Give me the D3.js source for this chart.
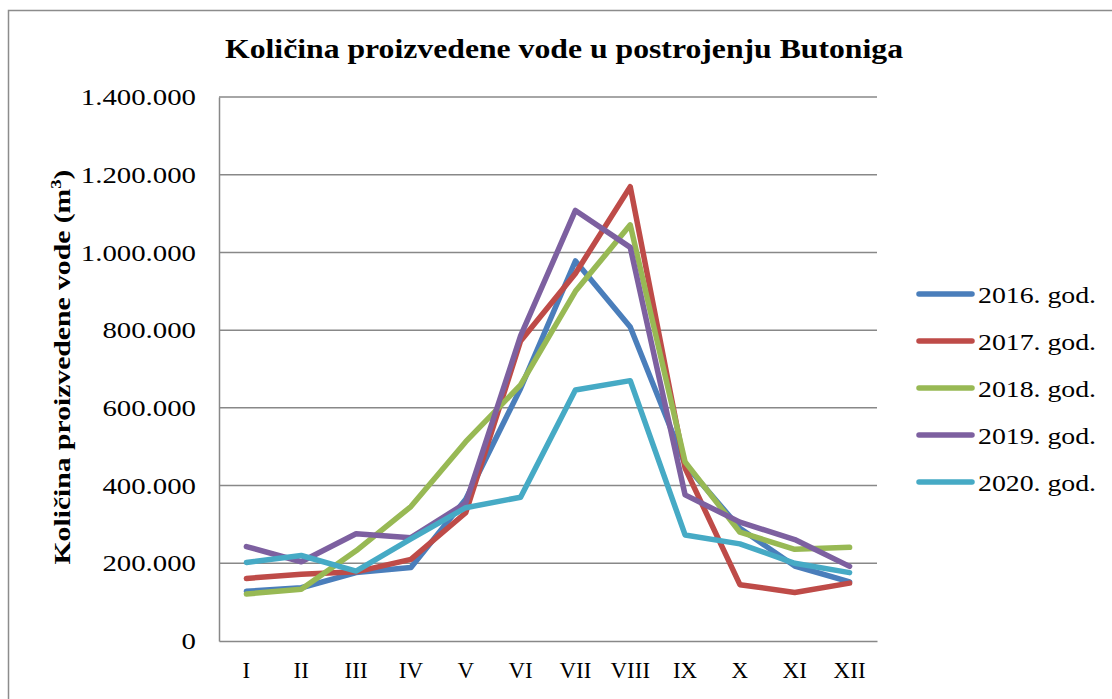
<!DOCTYPE html>
<html>
<head>
<meta charset="utf-8">
<script src="https://cdnjs.cloudflare.com/ajax/libs/d3/7.8.5/d3.min.js"></script>
<style>
  html, body { margin: 0; padding: 0; background: #fff; }
  svg { display: block; }
  text { font-family: "Liberation Serif", "DejaVu Serif", serif; fill: #000; }
</style>
</head>
<body>
<svg id="chart" width="1112" height="699"></svg>
<script>
// months (roman numerals) on x axis
var months = ["I", "II", "III", "IV", "V", "VI", "VII", "VIII", "IX", "X", "XI", "XII"];
var yTicks = [0, 200000, 400000, 600000, 800000, 1000000, 1200000, 1400000];

var series2016 = [128000, 137000, 176000, 189000, 365000, 650000, 978000, 808000, 455000, 290000, 193000, 152000];
var series2017 = [161000, 172000, 178000, 210000, 330000, 772000, 946000, 1169000, 445000, 145000, 125000, 149000];
var series2018 = [121000, 133000, 232000, 346000, 513000, 659000, 900000, 1071000, 461000, 280000, 236000, 241000];
var series2019 = [243000, 204000, 276000, 266000, 355000, 785000, 1108000, 1013000, 376000, 306000, 261000, 192000];
var series2020 = [202000, 220000, 180000, 263000, 343000, 370000, 646000, 670000, 273000, 250000, 200000, 176000];

var seriesNames = ["2016. god.", "2017. god.", "2018. god.", "2019. god.", "2020. god."];
var seriesColors = ["#4a7ebb", "#be4b48", "#98b954", "#7d60a0", "#46aac5"];
var seriesValues = [series2016, series2017, series2018, series2019, series2020];

var svg = d3.select("#chart");

// outer chart frame (runs off the right/bottom edge like in the picture)
svg.append("rect")
  .attr("x", 8.5).attr("y", 10.5)
  .attr("width", 1120).attr("height", 700)
  .attr("fill", "none")
  .attr("stroke", "#8c8c8c")
  .attr("stroke-width", 1.5);

var margin = {left: 219, right: 877, top: 97, bottom: 641};

var x = d3.scaleBand()
  .domain(months)
  .range([margin.left, margin.right]);

var y = d3.scaleLinear()
  .domain([0, 1400000])
  .range([margin.bottom, margin.top]);

var fmt = function(v) {
  return d3.format(",")(v).replace(/,/g, ".");
};

// stretch text a bit wider, the original font (Cambria) is wider than Liberation Serif
function widen(sel, k) {
  sel.each(function() {
    var w = this.getComputedTextLength();
    d3.select(this).attr("textLength", w * k).attr("lengthAdjust", "spacingAndGlyphs");
  });
}

// gridlines
svg.append("g")
  .selectAll("line")
  .data(yTicks.slice(1))
  .enter().append("line")
  .attr("x1", margin.left).attr("x2", margin.right)
  .attr("y1", function(d) { return y(d); })
  .attr("y2", function(d) { return y(d); })
  .attr("stroke", "#888")
  .attr("stroke-width", 1.5);

// y axis
var yAxis = svg.append("g")
  .attr("transform", "translate(" + margin.left + ",0)")
  .call(d3.axisLeft(y).tickValues(yTicks).tickFormat(fmt).tickSize(0).tickPadding(23));
yAxis.select(".domain").attr("stroke", "#888").attr("stroke-width", 1.5);
yAxis.selectAll("text")
  .style("font-size", "24px")
  .style("font-family", "'Liberation Serif', serif")
  .attr("fill", "#000");
widen(yAxis.selectAll("text"), 1.2);

// x axis
var xAxis = svg.append("g")
  .attr("transform", "translate(0," + margin.bottom + ")")
  .call(d3.axisBottom(x).tickSize(0).tickPadding(21));
xAxis.select(".domain").attr("stroke", "#888").attr("stroke-width", 1.5);
xAxis.selectAll("text")
  .style("font-size", "23px")
  .style("font-family", "'Liberation Serif', serif")
  .attr("fill", "#000");

// lines
var line = d3.line()
  .x(function(d, i) { return x(months[i]) + x.bandwidth() / 2; })
  .y(function(d) { return y(d); });

svg.append("g")
  .selectAll("path")
  .data(seriesValues)
  .enter().append("path")
  .attr("d", line)
  .attr("fill", "none")
  .attr("stroke", function(d, i) { return seriesColors[i]; })
  .attr("stroke-width", 5.5)
  .attr("stroke-linejoin", "round")
  .attr("stroke-linecap", "round");

// title
svg.append("text")
  .attr("x", 564).attr("y", 58)
  .attr("text-anchor", "middle")
  .attr("textLength", 678)
  .attr("lengthAdjust", "spacingAndGlyphs")
  .style("font-size", "28px")
  .style("font-weight", "bold")
  .text("Količina proizvedene vode u postrojenju Butoniga");

// y axis title
var yt = svg.append("text")
  .attr("text-anchor", "middle")
  .style("font-size", "24px")
  .style("font-weight", "bold");
yt.append("tspan").text("Količina proizvedene vode (m");
yt.append("tspan").attr("dy", -9).style("font-size", "15px").text("3");
yt.append("tspan").attr("dy", 9).text(")");
var ytw = yt.node().getBBox().width;
yt.attr("transform", "translate(70,367) rotate(-90) scale(" + (395 / ytw) + ",1)");

// legend
var legend = svg.append("g")
  .selectAll("g")
  .data(seriesNames)
  .enter().append("g")
  .attr("transform", function(d, i) { return "translate(917," + (294 + i * 47) + ")"; });

legend.append("line")
  .attr("x1", 2).attr("x2", 55)
  .attr("stroke", function(d, i) { return seriesColors[i]; })
  .attr("stroke-width", 5.5)
  .attr("stroke-linecap", "round");

var legText = legend.append("text")
  .attr("x", 61).attr("y", 9)
  .style("font-size", "24px")
  .text(function(d) { return d; });
legText.each(function() {
  var w = this.getComputedTextLength();
  d3.select(this).attr("textLength", 118).attr("lengthAdjust", "spacingAndGlyphs");
});
</script>
</body>
</html>
